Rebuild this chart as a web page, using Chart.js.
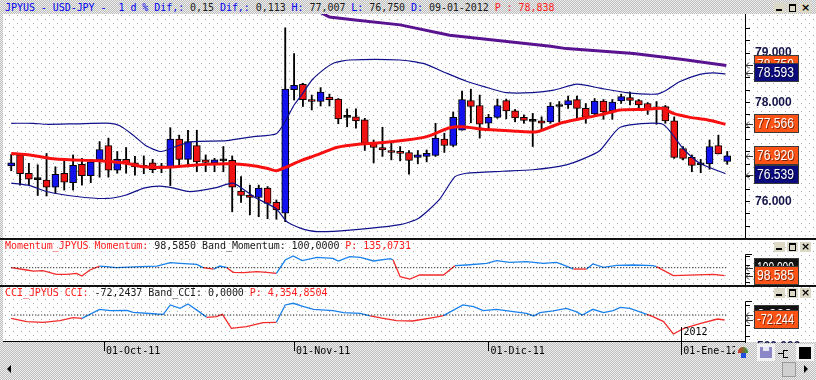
<!DOCTYPE html>
<html>
<head>
<meta charset="utf-8">
<title>JPYUS - USD-JPY</title>
<script src="https://cdn.jsdelivr.net/npm/chart.js@4.4.1/dist/chart.umd.min.js"></script>
<style>
  html, body { margin: 0; padding: 0; }
  body {
    width: 816px; height: 380px; overflow: hidden; position: relative;
    background: repeating-conic-gradient(#bdbdbd 0 25%, #efefef 0 50%) 0 0 / 2px 2px;
    font-family: "DejaVu Sans Mono", monospace; font-size: 10px;
  }
  #paper { position: absolute; left: 3px; top: 14px; width: 813px; height: 328px; background-color: #fff; }
  canvas { position: absolute; left: 0; }
  .sep { position: absolute; left: 0; width: 816px; height: 2px; background: #111; }
  .title { position: absolute; left: 5px; white-space: pre; line-height: 12px; letter-spacing: -0.05px; }
  .blue { color: #0000f0; }
  .red { color: #ff1c1c; }
  .blk { color: #1a1a1a; }
  .btns { position: absolute; left: 774px; width: 38px; height: 10px; }
  .btns span { position: absolute; top: 0; width: 11px; height: 10px; background: #dcd9c6; }
  .b1 i { position: absolute; left: 2px; top: 6px; width: 6px; height: 2px; background: #000; }
  .b2 i { position: absolute; left: 2px; top: 1px; width: 5px; height: 5px; border: 1px solid #000; border-top-width: 2px; }
  .b3 { font: bold 11px "DejaVu Sans", sans-serif; line-height: 10px; text-align: center; }
  .ico { position: absolute; }
</style>
</head>
<body>
<div id="paper"></div>

<canvas id="mainChart" width="816" height="225" style="top:14px"></canvas>
<canvas id="momChart" width="816" height="47" style="top:239px"></canvas>
<canvas id="cciChart" width="816" height="94" style="top:286px"></canvas>

<div class="sep" style="top:238px"></div>
<div class="sep" style="top:285px"></div>

<div class="title" style="top:2px"><span class="blue">JPYUS - USD-JPY -  1 d % Dif,: </span><span class="blk">0,15 </span><span class="blue">Dif,: </span><span class="blk">0,113 </span><span class="blue">H: </span><span class="blk">77,007 </span><span class="blue">L: </span><span class="blk">76,750 </span><span class="blue">D: </span><span class="blk">09-01-2012 </span><span class="red">P : 78,838</span></div>
<div class="title" style="top:240px"><span class="red">Momentum_JPYUS Momentum: </span><span class="blk">98,5850 Band_Momentum: 100,0000 </span><span class="red">P: 135,0731</span></div>
<div class="title" style="top:287px"><span class="red">CCI_JPYUS CCI: </span><span class="blk">-72,2437 Band_CCI: 0,0000 </span><span class="red">P: 4,354,8504</span></div>

<div class="btns" style="top:3px"><span class="b1" style="left:0"><i></i></span><span class="b2" style="left:13px"><i></i></span><span class="b3" style="left:26px">×</span></div>
<div class="btns" style="top:242px"><span class="b1" style="left:0"><i></i></span><span class="b2" style="left:13px"><i></i></span><span class="b3" style="left:26px">×</span></div>
<div class="btns" style="top:288px"><span class="b1" style="left:0"><i></i></span><span class="b2" style="left:13px"><i></i></span><span class="b3" style="left:26px">×</span></div>

<div class="ico" style="left:735px;top:343px;width:81px;height:19px;background:repeating-conic-gradient(#bdbdbd 0 25%, #efefef 0 50%) 0 0 / 2px 2px"></div>
<div class="ico" style="left:738px;top:347px;width:10px;height:6px;border-radius:5px 5px 0 0;background:linear-gradient(90deg,#d83020,#30a040)"></div>
<div class="ico" style="left:741px;top:353px;width:5px;height:5px;background:#2050e0"></div>
<div class="ico" style="left:757px;top:344px;width:18px;height:17px;background:#f2f2f2"></div>
<div class="ico" style="left:760px;top:347px;width:12px;height:11px;background:#8c88c8"></div>
<div class="ico" style="left:763px;top:347px;width:6px;height:4px;background:#e8e8f4"></div>
<div class="ico" style="left:778px;top:353px;width:5px;height:1px;background:#000"></div>
<div class="ico" style="left:783px;top:350px;width:4px;height:6px;border:1px solid #000;border-right:none"></div>
<div class="ico" style="left:796px;top:344px;width:18px;height:17px;background:#f2f2f2"></div>
<div class="ico" style="left:799px;top:347px;width:12px;height:12px;background:#000"></div>
<div class="ico" style="left:782px;top:362px;width:12px;height:13px;border:1px solid #9a9a9a;background:#d0d0d0"></div>
<div class="ico" style="left:804px;top:365px;width:0;height:0;border-top:4px solid transparent;border-bottom:4px solid transparent;border-left:4px solid #000"></div>
<div class="ico" style="left:7px;top:365px;width:0;height:0;border-top:4px solid transparent;border-bottom:4px solid transparent;border-right:4px solid #000"></div>

<script>
// daily candles, 16-Sep-2011 .. 09-Jan-2012 (trading day index 0..81)
const openPrices = [
  76.72, 76.94, 76.57, 76.45, 76.43, 76.29, 76.57, 76.38, 76.75, 76.52,
  76.84, 77.13, 76.63, 76.85, 76.78, 76.70, 76.78, 76.69, 76.69, 77.26,
  76.85, 77.13, 76.84, 76.78, 76.83, 76.83, 76.21, 76.13, 76.08, 76.27,
  75.98, 75.76, 78.26, 78.37, 78.06, 78.02, 78.11, 78.07, 77.71, 77.71,
  77.65, 77.18, 77.09, 77.03, 77.01, 76.99, 76.89, 76.91, 76.93, 77.26,
  77.13, 77.44, 78.04, 77.94, 77.58, 77.70, 78.04, 77.83, 77.70, 77.63,
  77.63, 77.61, 77.93, 77.95, 78.06, 77.88, 77.77, 78.03, 77.83, 78.03,
  78.10, 78.04, 77.98, 77.90, 77.92, 77.63, 77.07, 76.89, 76.75, 76.76,
  77.13, 76.81
];
const highPrices = [
  76.95, 76.97, 76.77, 76.74, 76.97, 76.70, 76.85, 76.94, 76.87, 76.85,
  77.21, 77.28, 77.01, 77.09, 76.91, 76.92, 76.85, 76.77, 77.49, 77.34,
  77.44, 77.44, 76.94, 76.87, 77.11, 76.92, 76.50, 76.33, 76.33, 76.30,
  76.03, 79.51, 78.99, 78.39, 78.15, 78.30, 78.17, 78.08, 77.87, 77.87,
  77.68, 77.24, 77.50, 77.18, 77.11, 77.03, 77.03, 77.04, 77.58, 77.38,
  77.81, 78.23, 78.27, 78.15, 77.76, 78.07, 78.07, 77.86, 77.75, 77.78,
  77.71, 78.00, 78.02, 78.13, 78.13, 77.98, 78.08, 78.06, 78.06, 78.17,
  78.21, 78.06, 78.00, 78.02, 77.94, 77.71, 77.11, 76.94, 76.85, 77.24,
  77.34, 77.01
];
const lowPrices = [
  76.62, 76.33, 76.33, 76.12, 76.11, 76.16, 76.23, 76.23, 76.33, 76.38,
  76.49, 76.49, 76.57, 76.57, 76.53, 76.56, 76.58, 76.58, 76.32, 76.70,
  76.70, 76.60, 76.60, 76.60, 76.60, 75.79, 75.98, 75.73, 75.69, 75.65,
  75.64, 75.59, 78.05, 77.92, 77.85, 77.93, 77.93, 77.57, 77.51, 77.48,
  77.03, 76.78, 76.91, 76.84, 76.82, 76.55, 76.76, 76.80, 76.91, 76.99,
  77.11, 77.44, 77.59, 77.28, 77.44, 77.68, 77.67, 77.61, 77.58, 77.11,
  77.46, 77.58, 77.61, 77.88, 77.68, 77.58, 77.73, 77.66, 77.66, 77.98,
  77.95, 77.85, 77.76, 77.56, 77.58, 76.87, 76.84, 76.60, 76.58, 76.65,
  76.96, 76.75
];
const closePrices = [
  76.78, 76.56, 76.45, 76.44, 76.29, 76.55, 76.39, 76.73, 76.52, 76.80,
  77.05, 76.63, 76.85, 76.77, 76.70, 76.69, 76.64, 76.68, 77.26, 76.85,
  77.21, 76.80, 76.79, 76.84, 76.82, 76.29, 76.12, 76.08, 76.27, 75.96,
  75.83, 78.27, 78.35, 78.06, 78.02, 78.21, 78.06, 77.67, 77.70, 77.63,
  77.18, 77.09, 77.04, 76.99, 76.97, 76.83, 76.94, 76.97, 77.28, 77.13,
  77.70, 78.06, 77.92, 77.56, 77.70, 77.94, 77.83, 77.69, 77.64, 77.62,
  77.58, 77.93, 77.92, 78.04, 77.88, 77.70, 78.03, 77.81, 78.01, 78.12,
  78.04, 77.95, 77.86, 77.87, 77.63, 76.89, 76.87, 76.73, 76.74, 77.11,
  76.96, 76.92
];

// Bollinger middle (red), upper / lower (navy), long average (purple)
const maX = [0, 2.1, 4.4, 7, 10, 11.5, 13, 15, 17.6, 19.8, 22.1, 24.8, 27, 28.9, 30, 31.2, 32.7, 34.6, 36.8, 39.5,
  42.1, 44.7, 47, 49.6, 51.1, 53.4, 55.3, 57.2, 59.5, 62.1, 64.7, 66.6, 68.9, 71.5, 73.7, 74.9, 76.8, 78.7, 80.8];
const maY = [76.97, 76.94, 76.87, 76.84, 76.82, 76.80, 76.77, 76.70, 76.69, 76.72, 76.75, 76.76, 76.73, 76.67, 76.62, 76.70, 76.82, 76.94, 77.09, 77.16,
  77.19, 77.24, 77.31, 77.49, 77.51, 77.46, 77.44, 77.42, 77.41, 77.58, 77.68, 77.75, 77.85, 77.86, 77.88, 77.78, 77.70, 77.65, 77.56];
const upperX = [0, 2.5, 4, 7.4, 11.2, 12.3, 13.8, 15.3, 16.8, 17.6, 19.1, 20.6, 24.4, 27.4, 30, 31, 32, 33, 34, 35.3,
  36.5, 38.3, 44, 46.6, 49.3, 51.5, 53.5, 56, 59, 61.4, 64, 66.6, 69.6, 73, 74.1, 75.6, 77.9, 79.4, 80.8];
const upperY = [77.58, 77.58, 77.56, 77.57, 77.58, 77.53, 77.34, 77.12, 77.01, 77.04, 77.14, 77.21, 77.23, 77.31, 77.37, 77.62, 77.95, 78.19, 78.45, 78.66,
  78.80, 78.86, 78.86, 78.79, 78.59, 78.43, 78.32, 78.20, 78.20, 78.25, 78.37, 78.29, 78.20, 78.17, 78.25, 78.42, 78.57, 78.60, 78.58];
const lowerX = [0, 2.1, 4, 7.4, 10.8, 13, 15, 16.8, 18.4, 20.2, 23.2, 25.1, 27.4, 28.9, 30, 31.2, 32.7, 34.6, 38.3, 44,
  46.1, 48.4, 50.2, 51.5, 55.6, 59, 62.8, 64.7, 66.6, 68.9, 73.7, 76, 77.9, 80.8];
const lowerY = [76.37, 76.32, 76.20, 76.10, 76.06, 76.13, 76.27, 76.31, 76.27, 76.20, 76.28, 76.37, 76.10, 75.96, 75.85, 75.59, 75.46, 75.39, 75.42, 75.53,
  75.66, 76.03, 76.50, 76.57, 76.61, 76.64, 76.74, 76.86, 77.03, 77.50, 77.56, 77.07, 76.77, 76.56];
const purpleX = [35, 36, 38.9, 44, 49.6, 55.3, 61, 62.8, 70.4, 76, 80.9];
const purpleY = [79.82, 79.73, 79.67, 79.57, 79.36, 79.25, 79.14, 79.09, 78.99, 78.87, 78.75];

// Momentum (band 100)
const momX = [0, 1.75, 2.5, 3.6, 5.1, 6.3, 7.4, 8, 8.9, 10, 10.8, 11.9, 14.6, 16.5, 18, 19.1, 21, 21.7, 22.9, 23.6,
  24.4, 25.1, 26.3, 27.8, 28.9, 30, 31, 31.9, 32.9, 34.6, 36.4, 37, 38.3, 39.5, 41, 42.9, 43.2, 44, 45.1, 46.2,
  48.9, 50.2, 51.5, 53.8, 54.9, 56.4, 58.3, 60.2, 61.7, 62.8, 63.6, 65.1, 65.8, 67, 68.5, 70.4, 72.6, 73, 74.9, 79.4, 80.7];
const momY = [100.00, 99.59, 99.41, 99.47, 98.82, 98.82, 99.00, 98.53, 99.59, 100.29, 100.18, 100.00, 100.18, 100.29, 100.88, 100.76, 100.59, 100.00, 99.76, 100.29,
  100.00, 99.18, 99.12, 99.29, 99.18, 99.00, 101.35, 102.06, 101.24, 101.82, 101.65, 101.18, 101.94, 101.82, 101.18, 101.59, 101.35, 98.41, 98.00, 98.71,
  98.71, 100.35, 100.47, 100.76, 101.24, 100.94, 101.06, 100.76, 100.94, 100.29, 99.76, 99.76, 100.65, 100.06, 100.41, 100.47, 100.35, 100.18, 98.59, 98.82, 98.585];
const momBand = 100;

// CCI (band 0)
const cciX = [0, 1.75, 3.6, 5.5, 7, 8, 10, 11.2, 13.1, 13.8, 16.5, 17.2, 18, 19.1, 20, 21.4, 22.1, 23.2, 23.9, 24.9,
  26.6, 28.5, 30, 31, 31.9, 33.1, 34.2, 36.4, 37.6, 39.5, 40.6, 42.1, 43.6, 45.4, 47.9, 48.9, 51.1, 52.3, 53.4, 54.9,
  56.8, 58.3, 59.1, 59.8, 61.3, 62.8, 63.9, 64.6, 65.8, 67, 68.1, 68.9, 70, 71.9, 72.6, 73.8, 74.9, 76.1, 78, 79.9, 80.7];
const cciY = [-48, -96, -106, -82, -39, -48, 82, 63, 67, 39, 14, 10, 145, 96, 159, 34, -34, -24, 10, -193,
  -169, -111, -106, 145, 169, 120, 82, 63, 34, 24, -14, -48, -82, -87, -34, -10, 145, 120, 63, 82,
  48, 24, -14, 34, 58, 96, 48, 0, 82, 34, 63, 111, 96, 10, -24, -96, -275, -193, -120, -58, -72.24];
const cciBand = 0;

// axes
const priceTicks = [75.25, 75.5, 75.75, 76, 76.25, 76.5, 76.75, 77, 77.25, 77.5, 77.75, 78, 78.25, 78.5, 78.75, 79, 79.25, 79.5];
const monthTicks = [10.5, 32, 54, 75.8];
const monthLabels = ['01-Oct-11', '01-Nov-11', '01-Dic-11', '01-Ene-12'];
const yearLabel = '2012';

// last values shown in the boxes on the right
const priceBoxValues = [78.750, 78.593, 77.566, 76.920, 76.539];
const momBoxValues = [100.000, 98.585];
const cciBoxValues = [0.000, -72.244];

const X_MIN = -0.928;
const X_MAX = 83.01;

const ORANGE = '#ff5316';
const NAVY = '#0b0b7e';
const priceBoxColors = [ORANGE, NAVY, ORANGE, ORANGE, NAVY];
const sideBoxColors = ['#111111', ORANGE];

// dotted paper background
(function () {
    const dot = document.createElement('canvas');
    dot.width = 8;
    dot.height = 8;
    const d = dot.getContext('2d');
    d.fillStyle = '#a8a8a8';
    d.fillRect(0, 0, 1, 1);
    d.fillRect(4, 4, 1, 1);
    const paper = document.getElementById('paper');
    paper.style.backgroundImage = 'url(' + dot.toDataURL() + ')';
    paper.style.backgroundPosition = '2px 5px';
})();

function points(xs, ys) {
    return xs.map((x, k) => ({ x: x, y: ys[k] }));
}

function candleColor(i) {
    const diff = closePrices[i] - openPrices[i];
    if (Math.abs(diff) < 0.015) return '#000';
    return diff > 0 ? '#1212ee' : '#f01212';
}

function drawArrow(ctx, x, y) {
    y = Math.round(y) + 0.5;
    ctx.save();
    ctx.strokeStyle = '#333';
    ctx.lineWidth = 1;
    ctx.beginPath();
    ctx.moveTo(x + 7, y);
    ctx.lineTo(x, y);
    ctx.moveTo(x + 3, y - 3);
    ctx.lineTo(x, y);
    ctx.lineTo(x + 3, y + 3);
    ctx.stroke();
    ctx.restore();
}

function drawValueBox(ctx, x, y, text, bg) {
    y = Math.round(y);
    ctx.save();
    ctx.fillStyle = '#3a3a3a';
    ctx.fillRect(x, y - 10, 45, 19);
    ctx.fillStyle = bg;
    ctx.fillRect(x + 1, y - 9, 43, 17);
    ctx.font = '14px "Liberation Sans", Arial, sans-serif';
    ctx.textBaseline = 'middle';
    ctx.textAlign = 'left';
    ctx.fillStyle = 'rgba(0,0,0,0.55)';
    ctx.fillText(text, x + 4, y + 1, 37);
    ctx.fillStyle = '#fff';
    ctx.fillText(text, x + 3, y, 37);
    ctx.restore();
}

function drawSideAxis(ctx, top, bottom, tickPixels) {
    ctx.save();
    ctx.strokeStyle = '#000';
    ctx.lineWidth = 1;
    ctx.beginPath();
    ctx.moveTo(752, top + 0.5);
    ctx.lineTo(745.5, top + 0.5);
    ctx.lineTo(745.5, bottom);
    tickPixels.forEach(p => {
        const py = Math.round(p) + 0.5;
        if (py > top + 2 && py < bottom) {
            ctx.moveTo(745.5, py);
            ctx.lineTo(750, py);
        }
    });
    ctx.stroke();
    ctx.restore();
}

const mainBoxes = {
    id: 'mainBoxes',
    afterDraw(chart) {
        const ctx = chart.ctx;
        const yScale = chart.scales.y;
        priceBoxValues.forEach((v, k) => {
            const py = yScale.getPixelForValue(v);
            drawArrow(ctx, 746, py);
            drawValueBox(ctx, 754, py, v.toFixed(3), priceBoxColors[k]);
        });
    }
};

const momSide = {
    id: 'momSide',
    afterDraw(chart) {
        const ctx = chart.ctx;
        const yScale = chart.scales.y;
        drawSideAxis(ctx, 15, chart.chartArea.bottom, [97.5, 99, 100.5, 102].map(v => yScale.getPixelForValue(v)));
        momBoxValues.forEach((v, k) => {
            const py = yScale.getPixelForValue(v);
            drawArrow(ctx, 746, py);
            drawValueBox(ctx, 754, py, v.toFixed(3), sideBoxColors[k]);
        });
    }
};

const cciSide = {
    id: 'cciSide',
    afterDraw(chart) {
        const ctx = chart.ctx;
        const yScale = chart.scales.y;
        const area = chart.chartArea;
        drawSideAxis(ctx, 15, area.bottom + 3, [-300, -150, 0, 150].map(v => yScale.getPixelForValue(v)));
        // axis label cut by the bottom edge
        ctx.save();
        ctx.beginPath();
        ctx.rect(750, 0, 66, area.bottom + 2);
        ctx.clip();
        ctx.font = 'bold 12px "Liberation Sans", Arial, sans-serif';
        ctx.fillStyle = '#14144a';
        ctx.textBaseline = 'middle';
        ctx.fillText('500.000', 757, area.bottom + 6);
        ctx.restore();
        cciBoxValues.forEach((v, k) => {
            const py = yScale.getPixelForValue(v);
            drawArrow(ctx, 746, py);
            drawValueBox(ctx, 754, py, v.toFixed(3), sideBoxColors[k]);
        });
        // year marker
        const px = Math.round(chart.scales.x.getPixelForValue(monthTicks[3])) + 0.5;
        ctx.save();
        ctx.strokeStyle = '#000';
        ctx.lineWidth = 1;
        ctx.beginPath();
        ctx.moveTo(px, area.bottom - 14);
        ctx.lineTo(px, area.bottom + 14);
        ctx.stroke();
        ctx.font = '10px "DejaVu Sans Mono", monospace';
        ctx.fillStyle = '#000';
        ctx.textBaseline = 'top';
        ctx.fillText(yearLabel, px + 2, area.bottom - 14);
        ctx.restore();
    }
};

function initializeMainChart() {
    const ctx = document.getElementById('mainChart').getContext('2d');
    const idx = openPrices.map((_, i) => i);
    return new Chart(ctx, {
        type: 'bar',
        data: {
            datasets: [
                {
                    type: 'line',
                    label: 'Long average',
                    data: points(purpleX, purpleY),
                    borderColor: '#5a1390',
                    borderWidth: 3,
                    pointRadius: 0,
                    tension: 0,
                    order: 0
                },
                {
                    type: 'line',
                    label: 'Upper band',
                    data: points(upperX, upperY),
                    borderColor: '#10108a',
                    borderWidth: 1.2,
                    pointRadius: 0,
                    tension: 0.2,
                    order: 0
                },
                {
                    type: 'line',
                    label: 'Lower band',
                    data: points(lowerX, lowerY),
                    borderColor: '#10108a',
                    borderWidth: 1.2,
                    pointRadius: 0,
                    tension: 0.2,
                    order: 0
                },
                {
                    type: 'line',
                    label: 'Middle band',
                    data: points(maX, maY),
                    borderColor: '#f81010',
                    borderWidth: 3,
                    pointRadius: 0,
                    tension: 0.2,
                    order: 0
                },
                {
                    label: 'Body',
                    data: idx.map(i => ({ x: i, y: [openPrices[i], closePrices[i]] })),
                    backgroundColor: c => candleColor(c.dataIndex),
                    borderColor: '#000',
                    borderWidth: 1,
                    borderSkipped: false,
                    barThickness: 7,
                    minBarLength: 2,
                    grouped: false,
                    order: 1
                },
                {
                    label: 'Wick',
                    data: idx.map(i => ({ x: i, y: [lowPrices[i], highPrices[i]] })),
                    backgroundColor: '#000',
                    borderWidth: 0,
                    barThickness: 1.2,
                    grouped: false,
                    order: 2
                }
            ]
        },
        options: {
            responsive: false,
            animation: false,
            devicePixelRatio: 1,
            layout: { padding: { left: 3, right: 0, top: 0, bottom: 0 } },
            plugins: {
                legend: { display: false },
                tooltip: { enabled: false }
            },
            scales: {
                x: {
                    type: 'linear',
                    min: X_MIN,
                    max: X_MAX,
                    offset: false,
                    display: false
                },
                y: {
                    position: 'right',
                    min: 75.24,
                    max: 79.79,
                    afterBuildTicks: s => { s.ticks = priceTicks.map(v => ({ value: v })); },
                    afterFit: s => { s.width = 71; s.paddingTop = 0; s.paddingBottom = 0; },
                    border: { color: '#000', width: 1 },
                    grid: { drawOnChartArea: false, tickLength: 5, color: '#000' },
                    ticks: {
                        autoSkip: false,
                        padding: 5,
                        color: '#14144a',
                        font: { family: 'Liberation Sans', size: 12, weight: 'bold' },
                        callback: v => (Math.abs(v - Math.round(v)) < 1e-6 ? v.toFixed(3) : '')
                    }
                }
            }
        },
        plugins: [mainBoxes]
    });
}

function indicatorLine(xs, ys, band) {
    return {
        type: 'line',
        data: points(xs, ys),
        borderWidth: 1.3,
        pointRadius: 0,
        tension: 0,
        segment: {
            borderColor: c => ((c.p0.parsed.y + c.p1.parsed.y) / 2 >= band ? '#1a80ea' : '#f22a2a')
        }
    };
}

function bandLine(band) {
    return {
        type: 'line',
        data: [{ x: 0, y: band }, { x: openPrices.length - 1, y: band }],
        borderColor: '#000',
        borderWidth: 1,
        borderDash: [1, 2],
        pointRadius: 0
    };
}

function initializeMomentumChart() {
    const ctx = document.getElementById('momChart').getContext('2d');
    return new Chart(ctx, {
        type: 'line',
        data: { datasets: [bandLine(momBand), indicatorLine(momX, momY, momBand)] },
        options: {
            responsive: false,
            animation: false,
            devicePixelRatio: 1,
            layout: { padding: { left: 3, right: 71, top: 0, bottom: 0 } },
            plugins: { legend: { display: false }, tooltip: { enabled: false } },
            scales: {
                x: { type: 'linear', min: X_MIN, max: X_MAX, display: false },
                y: { min: 96.77, max: 105.06, display: false }
            }
        },
        plugins: [momSide]
    });
}

function initializeCciChart() {
    const ctx = document.getElementById('cciChart').getContext('2d');
    return new Chart(ctx, {
        type: 'line',
        data: { datasets: [bandLine(cciBand), indicatorLine(cciX, cciY, cciBand)] },
        options: {
            responsive: false,
            animation: false,
            devicePixelRatio: 1,
            layout: { padding: { left: 3, right: 71, top: 0, bottom: 0 } },
            plugins: { legend: { display: false }, tooltip: { enabled: false } },
            scales: {
                x: {
                    type: 'linear',
                    min: X_MIN,
                    max: X_MAX,
                    afterBuildTicks: s => { s.ticks = monthTicks.map(v => ({ value: v })); },
                    afterFit: s => { s.height = 39; s.paddingLeft = 0; s.paddingRight = 0; },
                    border: { color: '#000', width: 1 },
                    grid: { drawOnChartArea: false, color: '#000', tickLength: 10 },
                    ticks: {
                        autoSkip: false,
                        maxRotation: 0,
                        align: 'start',
                        padding: -6,
                        labelOffset: 2,
                        color: '#000',
                        font: { family: 'DejaVu Sans Mono', size: 10 },
                        callback: (v, k) => monthLabels[k]
                    }
                },
                y: { min: -376, max: 419, display: false }
            }
        },
        plugins: [cciSide]
    });
}

initializeMainChart();
initializeMomentumChart();
initializeCciChart();
</script>
</body>
</html>
